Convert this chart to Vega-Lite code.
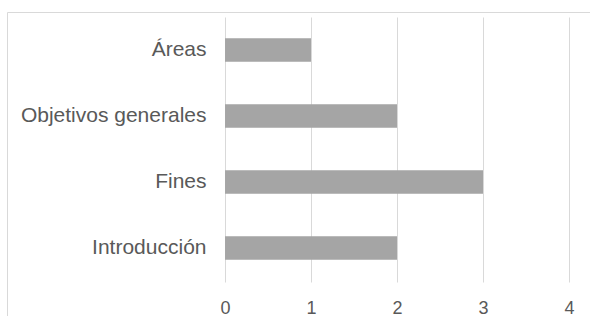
{
  "$schema": "https://vega.github.io/schema/vega-lite/v6.json",
  "width": 583,
  "height": 304,
  "autosize": {"type": "none"},
  "padding": {"left": 7, "top": 12, "right": 0, "bottom": 0},
  "background": "white",
  "config": {
    "view": {"stroke": null},
    "font": "Liberation Sans"
  },
  "data": {
    "values": [
      {"seccion": "Áreas", "valor": 1},
      {"seccion": "Objetivos generales", "valor": 2},
      {"seccion": "Fines", "valor": 3},
      {"seccion": "Introducción", "valor": 2}
    ]
  },
  "encoding": {
    "y": {
      "field": "seccion",
      "type": "nominal",
      "sort": null,
      "scale": {"paddingInner": 0.644, "paddingOuter": 0.625, "align": 0.318, "round": false},
      "axis": {
        "title": null,
        "orient": "left",
        "domain": true,
        "domainColor": "#d9d9d9",
        "domainWidth": 1,
        "ticks": false,
        "grid": false,
        "labelPadding": -199,
        "labelAlign": "right",
        "labelBaseline": "middle",
        "labelLimit": 400,
        "labelFontSize": 21,
        "labelColor": "#595959",
        "labelFont": "Liberation Sans"
      }
    }
  },
  "resolve": {"axis": {"x": "independent"}},
  "layer": [
    {
      "mark": {"type": "bar", "color": "#a5a5a5"},
      "encoding": {
        "x": {
          "field": "valor",
          "type": "quantitative",
          "scale": {"domain": [-2.535, 4.244], "nice": false, "zero": false},
          "axis": {
            "title": null,
            "orient": "bottom",
            "values": [0, 1, 2, 3, 4],
            "offset": -34,
            "domain": false,
            "grid": false,
            "ticks": true,
            "tickSize": -265,
            "tickColor": "#d9d9d9",
            "tickWidth": 1,
            "labelPadding": 282,
            "labelBaseline": "top",
            "labelFontSize": 18,
            "labelColor": "#595959",
            "labelFont": "Liberation Sans",
            "labelFlush": false,
            "labelOverlap": false
          }
        }
      }
    },
    {
      "mark": {"type": "point", "opacity": 0},
      "encoding": {
        "x": {
          "field": "valor",
          "type": "quantitative",
          "axis": {
            "title": null,
            "orient": "top",
            "domain": true,
            "domainColor": "#d9d9d9",
            "domainWidth": 1,
            "ticks": false,
            "labels": false,
            "grid": false
          }
        }
      }
    }
  ]
}
